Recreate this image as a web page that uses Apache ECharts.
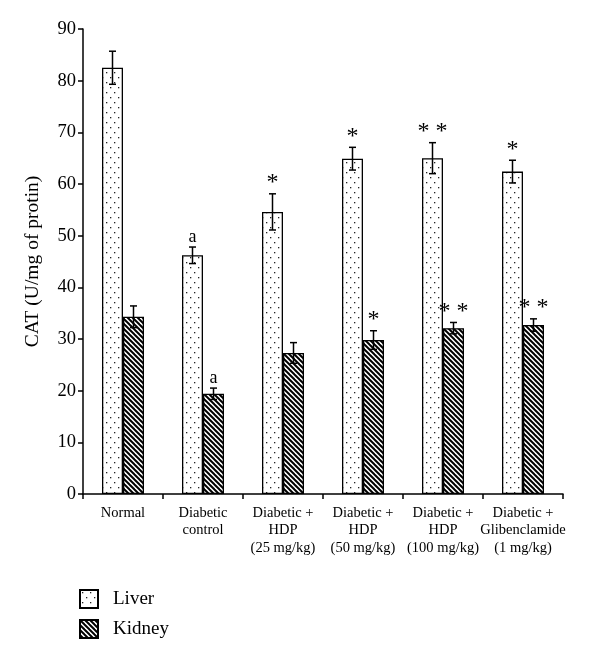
<!DOCTYPE html>
<html>
<head>
<meta charset="utf-8">
<script src="https://cdn.jsdelivr.net/npm/echarts@6/dist/echarts.min.js"></script>
<style>html,body{margin:0;padding:0;background:#fff}#c{width:600px;height:662px}</style>
</head>
<body>
<div id="c"></div>
<script>
const categories = ['Normal', 'Diabetic\ncontrol', 'Diabetic +\nHDP\n(25 mg/kg)', 'Diabetic +\nHDP\n(50 mg/kg)', 'Diabetic +\nHDP\n(100 mg/kg)', 'Diabetic +\nGlibenclamide\n(1 mg/kg)'];
const liver = [82.5, 46.2, 54.6, 64.9, 65.0, 62.4];
const liverErr = [3.2, 1.6, 3.5, 2.2, 3.0, 2.2];
const kidney = [34.3, 19.4, 27.3, 29.8, 32.1, 32.7];
const kidneyErr = [2.1, 1.1, 2.0, 1.8, 1.1, 1.2];
const liverMarks = ['', 'a', '*', '*', '**', '*'];
const kidneyMarks = ['', 'a', '', '*', '**', '**'];
const yTicks = [0, 10, 20, 30, 40, 50, 60, 70, 80, 90];

const FONT = '"Liberation Serif", "DejaVu Serif", serif';

function dotPattern() {
  const c = document.createElement('canvas');
  c.width = 8; c.height = 10;
  const g = c.getContext('2d');
  g.fillStyle = '#fff'; g.fillRect(0, 0, 8, 10);
  g.fillStyle = '#222';
  g.fillRect(2, 2, 1.3, 1.3);
  g.fillRect(6, 7, 1.3, 1.3);
  return c;
}
function stripePattern() {
  const s = 5;
  const c = document.createElement('canvas');
  c.width = s; c.height = s;
  const g = c.getContext('2d');
  g.fillStyle = '#fff'; g.fillRect(0, 0, s, s);
  g.strokeStyle = '#000'; g.lineWidth = 2;
  for (const o of [-s, 0, s]) {
    g.beginPath(); g.moveTo(o - 1, -1); g.lineTo(o + s + 1, s + 1); g.stroke();
  }
  return c;
}

const BW = 21;
function errSeries(name, vals, errs, marks, offset) {
  return {
    type: 'custom',
    name: name + ' err',
    z: 5,
    data: vals.map((v, i) => [i, v, errs[i]]),
    renderItem: function (params, api) {
      const i = api.value(0), v = api.value(1), e = api.value(2);
      const x = api.coord([i, v])[0] + offset;
      const hi = api.coord([i, v + e])[1];
      const lo = api.coord([i, v - e])[1];
      const cw = 3.5;
      const st = { stroke: '#000', lineWidth: 1.5 };
      const ch = [
        { type: 'line', shape: { x1: x, y1: hi, x2: x, y2: lo }, style: st },
        { type: 'line', shape: { x1: x - cw, y1: hi, x2: x + cw, y2: hi }, style: st },
        { type: 'line', shape: { x1: x - cw, y1: lo, x2: x + cw, y2: lo }, style: st }
      ];
      const m = marks[i];
      if (m) {
        const isStar = m.indexOf('*') >= 0;
        ch.push({
          type: 'text',
          style: {
            text: isStar ? m.split('').join(' ') : m,
            x: x,
            y: isStar ? hi - 11 : hi - 10,
            align: 'center',
            verticalAlign: 'middle',
            font: (isStar ? '24px ' : '18px ') + FONT,
            fill: '#000'
          }
        });
      }
      return { type: 'group', children: ch };
    },
    silent: true,
    tooltip: { show: false }
  };
}

const chart = echarts.init(document.getElementById('c'), null, { renderer: 'canvas' });
chart.setOption({
  animation: false,
  backgroundColor: '#fff',
  grid: { left: 83, right: 37, top: 29, bottom: 168 },
  legend: {
    orient: 'vertical',
    left: 79, top: 589,
    padding: 0,
    itemWidth: 18, itemHeight: 18, itemGap: 10,
    icon: 'rect',
    data: ['Liver', 'Kidney'],
    textStyle: { fontFamily: FONT, fontSize: 19, color: '#000', padding: [0, 0, 0, 10] }
  },
  xAxis: {
    type: 'category',
    data: categories,
    axisLine: { lineStyle: { color: '#000', width: 1.5 } },
    axisTick: { show: true, interval: 0, length: 5, inside: false, lineStyle: { color: '#000', width: 1.5 } },
    axisLabel: { interval: 0, fontFamily: FONT, fontSize: 14.5, color: '#000', lineHeight: 17.5, margin: 10 }
  },
  yAxis: {
    type: 'value',
    min: yTicks[0], max: yTicks[yTicks.length - 1], interval: 10,
    name: 'CAT (U/mg of protin)',
    nameLocation: 'middle',
    nameGap: 40,
    nameTextStyle: { fontFamily: FONT, fontSize: 19.5, color: '#000' },
    axisLine: { show: true, lineStyle: { color: '#000', width: 1.5 } },
    axisTick: { show: true, length: 5, lineStyle: { color: '#000', width: 1.5 } },
    axisLabel: { fontFamily: FONT, fontSize: 18.5, color: '#000', margin: 7 },
    splitLine: { show: false }
  },
  series: [
    {
      name: 'Liver', type: 'bar', data: liver, barWidth: BW, barGap: '0%',
      itemStyle: { color: { image: dotPattern(), repeat: 'repeat' }, borderColor: '#000', borderWidth: 1.3 }
    },
    {
      name: 'Kidney', type: 'bar', data: kidney, barWidth: BW, barGap: '0%',
      itemStyle: { color: { image: stripePattern(), repeat: 'repeat' }, borderColor: '#000', borderWidth: 1.3 }
    },
    errSeries('Liver', liver, liverErr, liverMarks, -BW / 2),
    errSeries('Kidney', kidney, kidneyErr, kidneyMarks, BW / 2)
  ]
});
</script>
</body>
</html>
